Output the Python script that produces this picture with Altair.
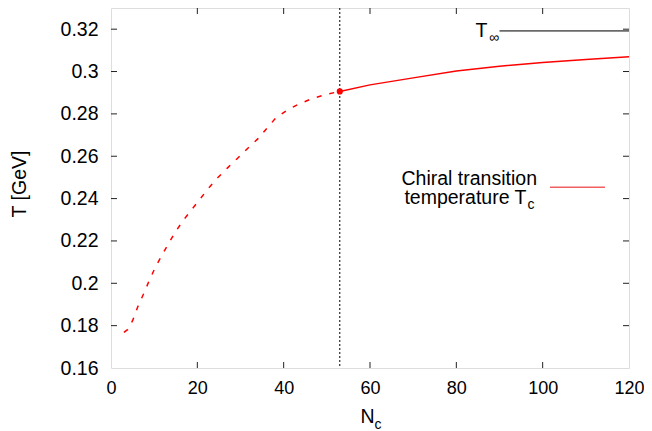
import altair as alt
import pandas as pd

# ---- data ----
dash_n = [3.0, 3.9, 5.05, 6.2, 7.6, 8.9, 10.3, 11.8, 13.3, 14.9, 16.8, 22.8, 24.7,
          27.0, 29.4, 31.7, 34.0, 36.1, 38.2, 40.9, 43.6, 46.7, 50.2, 53.0]
dash_t = [0.1768, 0.1782, 0.1826, 0.1889, 0.1952, 0.2015, 0.2077, 0.2132, 0.2187,
          0.2242, 0.2299, 0.2454, 0.2498, 0.2545, 0.2592, 0.2638, 0.2682, 0.2732,
          0.2781, 0.2819, 0.2847, 0.2873, 0.2894, 0.2906]
solid_n = [53, 60, 70, 80, 90, 100, 110, 120]
solid_t = [0.2906, 0.2937, 0.2970, 0.3002, 0.3025, 0.3043, 0.3057, 0.3070]
mark_n = [53.0]
mark_t = [0.2906]
tinf_n = [90, 120]
tinf_t = [0.3192, 0.3192]
x_ticks = [0, 20, 40, 60, 80, 100, 120]
y_ticks = [0.16, 0.18, 0.2, 0.22, 0.24, 0.26, 0.28, 0.3, 0.32]
x_inner = [20, 40, 60, 80, 100]
y_inner = [0.18, 0.2, 0.22, 0.24, 0.26, 0.28, 0.3, 0.32]

W, H = 518, 360
FONT = "Liberation Sans"
FS = 19.5
SUB = 14

xs = alt.Scale(domain=[0, 120], nice=False, zero=False)
ys = alt.Scale(domain=[0.16, 0.33], nice=False, zero=False)
xaxis = alt.Axis(values=x_ticks, title=None, grid=False, domain=False, ticks=False,
                 tickSize=0, labelPadding=11, labelOffset=0, labelFlush=False,
                 labelOverlap=False, labelFont=FONT, labelFontSize=18,
                 labelColor="black", format="d")
yaxis = alt.Axis(values=y_ticks, title=None, grid=False, domain=False, ticks=False,
                 tickSize=0, labelPadding=13, labelFlush=False, labelOverlap=False,
                 labelFont=FONT, labelFontSize=FS, labelColor="black", format=".2~f")

def X(f="n"):
    return alt.X(f"{f}:Q", scale=xs, axis=xaxis)

def Y(f="t"):
    return alt.Y(f"{f}:Q", scale=ys, axis=yaxis)

df_dash = pd.DataFrame({"n": dash_n, "t": dash_t})
df_solid = pd.DataFrame({"n": solid_n, "t": solid_t})
df_mark = pd.DataFrame({"n": mark_n, "t": mark_t})
df_tinf = pd.DataFrame({"n": tinf_n, "t": tinf_t})
df_xi = pd.DataFrame({"n": x_inner})
df_yi = pd.DataFrame({"t": y_inner})
one = pd.DataFrame({"k": [0]})

TICK = "#222222"
left_t = alt.Chart(df_yi).mark_rule(color=TICK, strokeWidth=1).encode(
    y=Y(), x=alt.value(0), x2=alt.value(6))
right_t = alt.Chart(df_yi).mark_rule(color=TICK, strokeWidth=1).encode(
    y=Y(), x=alt.value(W - 6), x2=alt.value(W))
bot_t = alt.Chart(df_xi).mark_rule(color=TICK, strokeWidth=1).encode(
    x=X(), y=alt.value(H), y2=alt.value(H - 6))
top_t = alt.Chart(df_xi).mark_rule(color=TICK, strokeWidth=1).encode(
    x=X(), y=alt.value(0), y2=alt.value(6))

vline = alt.Chart(df_mark).mark_rule(color="black", strokeWidth=1,
                                     strokeDash=[2, 2]).encode(x=X())
dash = alt.Chart(df_dash).mark_line(color="#ff0000", strokeWidth=1.5,
                                    strokeDash=[5, 8]).encode(x=X(), y=Y(), order="n:Q")
solid = alt.Chart(df_solid).mark_line(color="#ff0000", strokeWidth=1.5).encode(
    x=X(), y=Y(), order="n:Q")
pt = alt.Chart(df_mark).mark_circle(color="#ff0000", opacity=1, size=38).encode(
    x=X(), y=Y())
tinf = alt.Chart(df_tinf).mark_line(color="#6a6a6a", strokeWidth=1.6).encode(
    x=X(), y=Y())

def txt(s, x, y, size=FS, align="left", baseline="alphabetic", angle=0):
    return alt.Chart(pd.DataFrame({"s": [s]})).mark_text(
        font=FONT, fontSize=size, align=align, baseline=baseline, angle=angle,
        color="black").encode(text="s:N", x=alt.value(x), y=alt.value(y))

labels = [
    txt("T [GeV]", -91, 176, align="center", baseline="middle", angle=270),
    txt("N", 249.5, 415),
    txt("c", 263.5, 420.5, size=SUB),
    txt("T", 364.5, 28.5),
    txt("\u221e", 378, 34, size=SUB),
    txt("Chiral transition", 426, 176.5, align="right"),
    txt("temperature T", 415.5, 195.5, align="right"),
    txt("c", 416.5, 201, size=SUB),
]

key = alt.Chart(one).mark_rule(color="#f06060", strokeWidth=1.5).encode(
    x=alt.value(439), x2=alt.value(494), y=alt.value(179.3))

chart = alt.layer(left_t, right_t, bot_t, top_t, vline, dash, solid, tinf, pt, key,
                  *labels).properties(
    width=W, height=H,
    autosize=alt.AutoSizeParams(type="none"),
    padding={"left": 103, "top": 0, "right": 15, "bottom": 63},
).configure_view(stroke="black", strokeWidth=1.2).configure(background="white")

chart.save("out.html", embed_options={"renderer": "svg", "actions": False})
